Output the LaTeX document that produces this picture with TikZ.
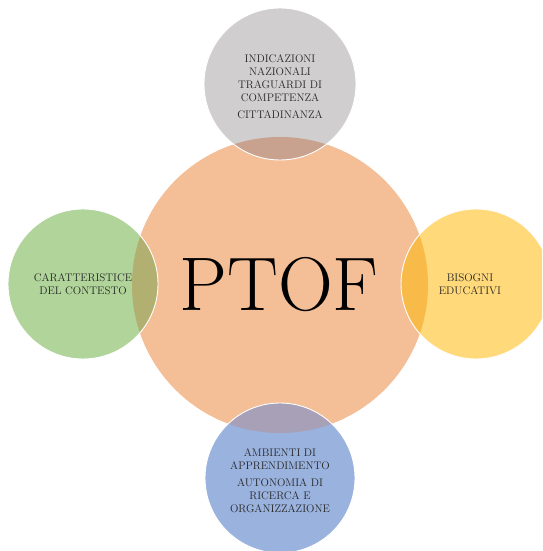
\documentclass[tikz,border=0pt]{standalone}
\usepackage{tikz}
\definecolor{corange}{HTML}{F4BE96}
\definecolor{cgray}{HTML}{D0CECE}
\definecolor{cgreen}{HTML}{B0D49A}
\definecolor{cyellow}{HTML}{FFD97A}
\definecolor{cblue}{HTML}{9AB2DE}
\definecolor{lgray}{HTML}{C8A28F}
\definecolor{lgreen}{HTML}{B2B070}
\definecolor{lyellow}{HTML}{F8BA48}
\definecolor{lblue}{HTML}{A7A0B6}
\definecolor{txt}{HTML}{262626}
\tikzset{
  sat/.style={draw=white, line width=0.9pt},
  lbl/.style={align=center, text=txt, font=\fontsize{11}{13}\selectfont, inner sep=0pt}
}
\begin{document}
\begin{tikzpicture}[x=1pt,y=1pt]
\useasboundingbox (0,0) rectangle (542,551);
\fill[white] (0,0) rectangle (542,551);
% main circle
\fill[corange] (280,266) circle (148);
\coordinate (mc) at (280,266);
% satellites
\coordinate (tc) at (280,467);
\coordinate (lc) at (83,267);
\coordinate (rc) at (476,267);
\coordinate (bc) at (280,73);
\begin{scope}
\clip (0,0) rectangle (542,551);
\fill[cgray] (tc) circle (76);
\fill[cgreen] (lc) circle (75);
\fill[cyellow] (rc) circle (75);
\fill[cblue] (bc) circle (75);
\begin{scope}
\clip (mc) circle (148);
\fill[lgray] (tc) circle (76);
\fill[lgreen] (lc) circle (75);
\fill[lyellow] (rc) circle (75);
\fill[lblue] (bc) circle (75);
\end{scope}
\draw[sat] (tc) circle (76);
\draw[sat] (lc) circle (75);
\draw[sat] (rc) circle (75);
\draw[sat] (bc) circle (75);
\end{scope}
\node[font=\fontsize{76}{76}\selectfont, inner sep=0pt] (ptof) at (279,266) {PTOF};
\node[lbl] (top) at (280,464) {INDICAZIONI\\NAZIONALI\\TRAGUARDI DI\\COMPETENZA\\[4pt]CITTADINANZA};
\node[lbl] (left) at (83,267) {CARATTERISTICE\\DEL CONTESTO};
\node[lbl] (right) at (470,267) {BISOGNI\\EDUCATIVI};
\node[lbl] (bottom) at (280,70) {AMBIENTI DI\\APPRENDIMENTO\\[4pt]AUTONOMIA DI\\RICERCA E\\ORGANIZZAZIONE};
\end{tikzpicture}
\end{document}
